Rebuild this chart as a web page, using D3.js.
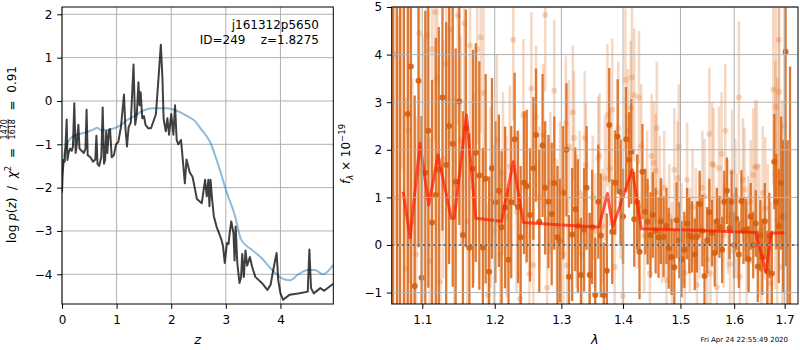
<!DOCTYPE html>
<html><head><meta charset="utf-8">
<script src="https://cdn.jsdelivr.net/npm/d3@7"></script>
<style>
body{margin:0;background:#fff}
svg{font-family:"DejaVu Sans",sans-serif}
text{white-space:pre}
</style></head><body>
<svg id="c" width="800" height="350"></svg>
<script>
// ---------- Left panel: p(z) ----------
const pzZ = [0.00,0.01,0.03,0.05,0.086,0.10,0.12,0.15,0.18,0.20,
0.225,0.25,0.27,0.30,0.32,0.36,0.40,0.43,0.45,0.47,
0.52,0.57,0.61,0.63,0.65,0.68,0.72,0.745,0.77,0.79,
0.81,0.83,0.86,0.88,0.91,0.95,0.99,1.03,1.08,1.135,
1.16,1.19,1.22,1.26,1.31,1.34,1.37,1.40,1.42,1.44,
1.47,1.50,1.53,1.58,1.63,1.68,1.72,1.76,1.81,1.84,
1.86,1.90,1.93,1.96,2.00,2.04,2.07,2.10,2.13,2.18,
2.25,2.28,2.34,2.39,2.43,2.47,2.56,2.62,2.65,2.68,
2.70,2.72,2.75,2.78,2.83,2.92,2.95,2.98,3.02,3.05,
3.07,3.10,3.14,3.16,3.18,3.21,3.25,3.28,3.30,3.33,
3.36,3.39,3.44,3.48,3.54,3.66,3.76,3.82,3.88,3.93,
3.96,4.00,4.05,4.17,4.35,4.50,4.53,4.56,4.61,4.73,
4.80,4.968];
const pzLog = [-2.12,-1.75,-1.36,-1.40,-0.43,-1.36,-1.20,-1.10,-1.15,-1.05,
-0.05,-1.20,-1.00,-0.55,-1.10,-1.15,-1.20,-1.10,-0.20,-1.25,
-1.30,-1.40,-1.35,-0.80,-1.45,-1.50,-1.30,-0.15,-1.45,-1.35,
-0.70,-1.20,-0.67,-0.65,-1.30,-1.25,-1.00,-0.95,-0.60,0.15,
-0.60,-1.05,-0.60,-0.50,0.84,-0.55,-0.30,0.43,-0.10,0.20,
-0.40,-0.35,-0.55,-0.63,-0.63,-0.45,-0.30,0.40,1.30,0.50,
-0.40,-0.70,-0.40,-0.78,-0.30,-0.78,-0.10,-0.90,-1.00,-0.90,
-1.90,-1.35,-1.65,-1.75,-2.00,-2.26,-2.36,-1.82,-2.20,-1.82,
-2.43,-1.82,-2.28,-2.66,-2.90,-3.20,-3.36,-3.74,-3.28,-3.30,
-3.05,-2.78,-3.05,-3.68,-2.90,-3.74,-4.20,-4.06,-3.53,-4.06,
-3.45,-3.80,-3.60,-3.82,-4.06,-4.20,-4.36,-4.24,-3.82,-3.51,
-4.14,-4.44,-4.59,-4.47,-4.44,-4.40,-3.43,-4.32,-4.44,-4.32,
-4.38,-4.22];
const priorZ = [0.00,0.03,0.09,0.15,0.27,0.45,0.57,0.65,0.72,0.93,
1.06,1.18,1.31,1.49,1.67,1.91,2.09,2.27,2.44,2.53,
2.72,2.87,3.02,3.17,3.28,3.47,3.65,3.84,4.02,4.17,
4.32,4.50,4.63,4.78,4.87,4.968];
const priorLog = [-1.60,-1.30,-1.00,-0.87,-0.78,-0.72,-0.66,-0.62,-0.68,-0.64,
-0.57,-0.45,-0.36,-0.22,-0.17,-0.17,-0.22,-0.33,-0.47,-0.62,
-0.97,-1.51,-2.12,-2.66,-3.20,-3.43,-3.62,-3.89,-4.09,-4.14,
-4.01,-3.90,-3.90,-4.00,-3.93,-3.78];
const zTicks = [0,1,2,3,4];
const logTicks = [2,1,0,-1,-2,-3,-4];
const objName = "j161312p5650";
const objInfo = "ID=249    z=1.8275";

// ---------- Right panel: spectrum ----------
const darkWave = [1.062,1.067,1.071,1.076,1.081,1.085,1.090,1.095,1.099,1.104,
1.108,1.113,1.118,1.122,1.127,1.132,1.136,1.141,1.145,1.150,
1.155,1.159,1.164,1.169,1.173,1.178,1.183,1.187,1.192,1.196,
1.201,1.206,1.210,1.215,1.220,1.224,1.229,1.234,1.238,1.243,
1.247,1.252,1.257,1.261,1.266,1.271,1.275,1.280,1.285,1.289,
1.294,1.298,1.303,1.308,1.312,1.317,1.322,1.326,1.331,1.336,
1.340,1.345,1.349,1.354,1.359,1.363,1.368,1.373,1.377,1.382,
1.387,1.391,1.396,1.400,1.405,1.410,1.414,1.419,1.424,1.428,
1.433,1.438,1.442,1.447,1.451,1.456,1.461,1.465,1.470,1.475,
1.479,1.484,1.489,1.493,1.498,1.502,1.507,1.512,1.516,1.521,
1.526,1.530,1.535,1.540,1.544,1.549,1.553,1.558,1.563,1.567,
1.572,1.577,1.581,1.586,1.591,1.595,1.600,1.604,1.609,1.614,
1.618,1.623,1.628,1.632,1.637,1.642,1.646,1.651,1.655,1.660,
1.665,1.669,1.674,1.679,1.683,1.688,1.693,1.697,1.702,1.706,
1.711];
const darkFlux = [6.5,-2.5,7.0,-2.0,2.75,3.75,-0.86,3.45,-0.69,1.52,
2.4,0.47,1.05,1.58,3.1,1.68,2.5,2.12,1.33,3.02,
0.21,2.45,-0.06,1.6,1.94,1.46,-0.06,1.39,-0.56,1.61,
0.9,1.14,0.37,0.79,-0.31,0.9,2.22,0.80,0.16,1.31,
1.24,0.63,1.61,2.31,0.49,2.09,1.2,0.91,0.65,1.30,
0.16,0.09,1.1,2.0,-0.67,0.22,0.75,0.4,-0.63,0.32,
1.2,-0.63,0.38,-1.05,0.91,0.2,-1.05,-0.54,2.52,0.28,
1.31,2.28,1.12,0.6,2.22,1.79,1.96,0.54,0.9,-0.14,
1.54,0.7,0.49,0.21,0.63,0.3,0.16,0.5,0.17,0.4,
-0.07,-0.25,-0.47,0.52,0.1,-0.3,-0.10,0.45,0.2,0.17,
-0.2,0.17,0.86,0.3,-0.65,0.1,0.69,0.25,-0.17,0.5,
0.38,-0.1,0.91,1.14,0.35,0.91,0.0,0.55,-0.2,0.92,
0.3,0.32,-0.3,0.6,0.0,0.45,-0.45,0.2,-0.25,0.5,
-0.55,0.2,-0.6,1.75,0.91,0.4,1.3,0.6,4.06,-2.0,
-3.0];
const darkErr = [9,8,9,7,4.5,5,4,3.5,3.4,3.4,
3.3,3.0,3.3,3.0,2.8,3.0,2.9,3.0,2.8,2.6,
2.6,2.5,2.4,2.5,2.3,2.4,2.1,2.2,2.0,1.9,
1.7,1.6,1.6,1.7,1.5,1.6,1.4,1.6,1.5,1.5,
1.6,1.4,1.5,1.4,1.5,1.5,1.4,1.4,1.5,1.4,
1.5,1.3,1.4,1.4,1.3,1.4,1.3,1.4,1.2,1.3,
1.3,1.3,1.2,1.2,1.2,1.3,1.1,1.2,1.2,1.1,
1.1,1.2,1.1,1.0,1.1,1.0,1.1,1.0,1.0,1.0,
1.0,0.9,0.9,0.9,0.9,0.9,0.85,0.9,0.85,0.8,
0.85,0.8,0.8,0.8,0.8,0.8,0.8,0.75,0.8,0.75,
0.75,0.75,0.7,0.75,0.7,0.7,0.7,0.7,0.7,0.7,
0.65,0.7,0.65,0.7,0.65,0.65,0.7,0.65,0.7,0.65,
0.7,0.65,0.7,0.7,0.7,0.7,0.75,0.75,0.8,0.8,
0.85,0.9,0.9,1.0,1.0,1.2,1.4,1.6,4.5,4.2,
6.75];
const lightWave = [1.064,1.068,1.073,1.078,1.082,1.087,1.092,1.096,1.101,1.106,
1.110,1.113,1.117,1.120,1.124,1.128,1.132,1.138,1.143,1.148,
1.152,1.157,1.161,1.165,1.170,1.175,1.180,1.184,1.190,1.194,
1.199,1.203,1.208,1.212,1.217,1.222,1.227,1.232,1.237,1.242,
1.246,1.251,1.254,1.257,1.261,1.266,1.272,1.275,1.278,1.283,
1.289,1.293,1.298,1.303,1.307,1.309,1.312,1.318,1.320,1.324,
1.329,1.333,1.337,1.339,1.345,1.350,1.354,1.359,1.361,1.366,
1.370,1.374,1.378,1.382,1.386,1.392,1.396,1.400,1.404,1.408,
1.413,1.415,1.419,1.425,1.427,1.431,1.436,1.441,1.446,1.449,
1.453,1.456,1.458,1.463,1.467,1.471,1.475,1.480,1.485,1.489,
1.495,1.497,1.502,1.508,1.512,1.517,1.522,1.528,1.530,1.535,
1.540,1.544,1.549,1.553,1.555,1.558,1.561,1.567,1.571,1.576,
1.580,1.583,1.588,1.592,1.596,1.599,1.602,1.606,1.609,1.611,
1.617,1.620,1.624,1.627,1.632,1.637,1.641,1.644,1.649,1.653,
1.656,1.661,1.666,1.672,1.677,1.681,1.682,1.685,1.688,1.689,
1.695,1.699];
const lightFlux = [4.0,1.0,5.6,-0.5,2.4,0.5,-0.2,4.45,1.6,4.41,
-0.34,4.11,4.89,3.5,-0.77,1.8,3.81,4.52,0.8,4.82,
2.2,4.66,0.5,4.19,1.2,4.11,4.36,3.2,-1.05,1.0,
0.3,2.2,-0.2,1.51,0.6,1.65,4.31,0.7,-1.13,2.73,
1.2,-0.61,3.29,-0.42,2.69,1.0,2.31,4.83,-0.9,1.3,
3.24,0.4,1.2,-0.2,2.56,-0.43,2.07,2.79,2.25,0.5,
1.1,-0.2,2.25,1.68,-0.61,1.0,0.3,1.82,1.89,0.4,
1.4,2.73,1.6,2.84,-0.46,2.45,0.9,-1.07,3.47,2.4,
2.89,3.52,3.15,0.7,3.10,2.08,0.2,1.2,-0.6,1.87,
1.73,1.56,2.45,1.1,0.3,1.2,-0.74,0.6,-0.3,1.58,
1.4,2.07,0.2,-0.59,1.37,0.1,0.8,0.53,-0.84,0.4,
1.2,1.03,-0.3,2.33,-0.6,1.70,1.68,-0.89,1.61,1.91,
0.2,2.4,0.6,-0.4,1.54,-0.12,1.03,0.4,3.1,-0.67,
1.37,1.17,-0.3,0.25,0.9,1.47,1.63,1.65,0.3,-0.5,
1.1,0.77,0.1,-0.8,3.26,1.47,2.9,0.52,4.31,3.22,
-0.46,2.5];
const lightErr = [4.0,3.8,4.0,3.6,3.2,3.0,2.9,3.0,2.8,2.8,
2.6,2.6,2.7,2.5,2.4,2.5,2.4,2.4,2.3,2.3,
2.2,2.2,2.1,2.1,2.0,2.0,2.0,1.9,1.9,1.9,
1.8,1.8,1.8,1.7,1.7,1.7,1.7,1.7,1.6,1.6,
1.6,1.6,1.6,1.6,1.5,1.5,1.5,1.6,1.5,1.5,
1.5,1.4,1.4,1.4,1.4,1.4,1.4,1.4,1.4,1.4,
1.3,1.3,1.4,1.3,1.3,1.3,1.2,1.3,1.3,1.2,
1.3,1.5,1.2,1.5,1.2,1.4,1.2,1.3,1.5,1.3,
1.4,1.5,1.4,1.2,1.4,1.3,1.2,1.2,1.2,1.3,
1.3,1.2,1.4,1.2,1.1,1.2,1.2,1.1,1.2,1.3,
1.2,1.3,1.1,1.2,1.2,1.1,1.2,1.1,1.2,1.1,
1.2,1.2,1.1,1.4,1.2,1.3,1.2,1.2,1.3,1.3,
1.1,1.4,1.2,1.1,1.3,1.2,1.2,1.1,1.6,1.2,
1.3,1.3,1.2,1.2,1.3,1.4,1.4,1.4,1.4,1.4,
1.4,1.5,1.6,1.7,2.0,2.4,2.6,3.0,3.5,3.0,
3.5,5];
const modelWave = [1.075,1.084,1.097,1.1085,1.121,1.139,1.143,1.160,1.173,1.210,
1.227,1.242,1.300,1.360,1.374,1.383,1.4155,1.431,1.525,1.642,
1.662,1.673,1.702];
const modelFlux = [1.12,0.15,2.14,0.84,1.89,0.56,0.56,2.73,0.56,0.50,
1.75,0.47,0.42,0.38,1.08,0.38,1.58,0.34,0.31,0.26,
-0.56,0.25,0.25];
const lamTicks = [1.1,1.2,1.3,1.4,1.5,1.6,1.7];
const fluxTicks = [-1,0,1,2,3,4,5];
const stamp = "Fri Apr 24 22:55:49 2020";

// ---------- drawing ----------
const svg = d3.select("#c");
const FS = 12;
const GRID = "#b0b0b0";
const ORANGE = "#db6818";

const xL = d3.scaleLinear().domain([0, 4.968]).range([62, 333.3]);
const yL = d3.scaleLinear().domain([-4.686, 2.169]).range([304, 7]);
const xR = d3.scaleLog().domain([1.0603, 1.7275]).range([391.7, 798]);
const yR = d3.scaleLinear().domain([-1.24, 5]).range([304, 7]);

const defs = svg.append("defs");
defs.append("clipPath").attr("id","clipL").append("rect")
  .attr("x",62).attr("y",7).attr("width",333.3-62).attr("height",304-7);
defs.append("clipPath").attr("id","clipR").append("rect")
  .attr("x",391.7).attr("y",7).attr("width",798-391.7).attr("height",304-7);

function styleAxis(g){
  g.select(".domain").remove();
  g.selectAll(".tick line").attr("stroke","#000").attr("stroke-width",1);
  g.selectAll(".tick text").attr("font-size",FS).attr("fill","#000")
    .attr("font-family","DejaVu Sans, sans-serif");
}

// ----- Left panel -----
const gL = svg.append("g");
// grid
gL.append("g").selectAll("line").data(zTicks).join("line")
  .attr("x1",d=>xL(d)).attr("x2",d=>xL(d)).attr("y1",7).attr("y2",304)
  .attr("stroke",GRID).attr("stroke-width",1);
gL.append("g").selectAll("line").data(logTicks).join("line")
  .attr("x1",62).attr("x2",333.3).attr("y1",d=>yL(d)).attr("y2",d=>yL(d))
  .attr("stroke",GRID).attr("stroke-width",1);

const plotL = gL.append("g").attr("clip-path","url(#clipL)");
const priorPts = priorZ.map((z,i)=>[z,priorLog[i]]);
plotL.append("path").datum(priorPts)
  .attr("d", d3.line().x(d=>xL(d[0])).y(d=>yL(d[1])).curve(d3.curveMonotoneX))
  .attr("fill","none").attr("stroke","#1f77b4").attr("stroke-opacity",0.5).attr("stroke-width",2);
const pzPts = pzZ.map((z,i)=>[z,pzLog[i]]);
plotL.append("path").datum(pzPts)
  .attr("d", d3.line().x(d=>xL(d[0])).y(d=>yL(d[1])))
  .attr("fill","none").attr("stroke","#000").attr("stroke-opacity",0.75)
  .attr("stroke-width",2).attr("stroke-linejoin","round");

const axLx = gL.append("g").attr("transform","translate(0,304)")
  .call(d3.axisBottom(xL).tickValues(zTicks).tickSize(4.9).tickPadding(6.5).tickFormat(d3.format("d")));
styleAxis(axLx);
const axLy = gL.append("g").attr("transform","translate(62,0)")
  .call(d3.axisLeft(yL).tickValues(logTicks).tickSize(4.9).tickPadding(4.6).tickFormat(d3.format("d")));
styleAxis(axLy);
gL.append("rect").attr("x",62).attr("y",7).attr("width",333.3-62).attr("height",297)
  .attr("fill","none").attr("stroke","#000").attr("stroke-width",1);

gL.append("text").attr("x",319).attr("y",28.5).attr("text-anchor","end")
  .attr("font-size",FS).text(objName);
gL.append("text").attr("x",319).attr("y",44).attr("text-anchor","end")
  .attr("font-size",FS).text(objInfo);

gL.append("text").attr("x",(62+333.3)/2).attr("y",344).attr("text-anchor","middle")
  .attr("font-size",FS+1).attr("font-style","italic").text("z");

// left y label with fraction
(function(){
  const g = svg.append("g");
  const t1 = g.append("text").attr("font-size",FS).attr("x",0).attr("y",0);
  t1.append("tspan").text("log ");
  t1.append("tspan").attr("font-style","italic").text("p");
  t1.append("tspan").text("(");
  t1.append("tspan").attr("font-style","italic").text("z");
  t1.append("tspan").text(")  /  ");
  t1.append("tspan").attr("font-style","italic").text("χ");
  t1.append("tspan").attr("font-size",8.5).attr("dy",-5).text("2");
  t1.append("tspan").attr("dy",5).text("  =  ");
  const w1 = t1.node().getComputedTextLength();
  const fx = w1 + 1;
  const nt = g.append("text").attr("font-size",8).attr("x",fx).attr("y",-8.8).text("1470");
  const dt = g.append("text").attr("font-size",8).attr("x",fx).attr("y",-0.3).text("1618");
  const fw = Math.max(nt.node().getComputedTextLength(), dt.node().getComputedTextLength());
  g.append("line").attr("x1",fx).attr("x2",fx+fw).attr("y1",-7.4).attr("y2",-7.4)
    .attr("stroke","#000").attr("stroke-width",0.7);
  const t2 = g.append("text").attr("font-size",FS).attr("x",fx+fw+1).attr("y",0).text("  =  0.91");
  const total = fx + fw + 1 + t2.node().getComputedTextLength();
  g.attr("transform",`translate(15.5,${154.5 + total/2}) rotate(-90)`);
})();

// ----- Right panel -----
const gR = svg.append("g");
const plotR = gR.append("g").attr("clip-path","url(#clipR)");

const light = lightWave.map((w,i)=>({w, f:lightFlux[i], e:lightErr[i]}));
const dark = darkWave.map((w,i)=>({w, f:darkFlux[i], e:darkErr[i]}));

const gLight = plotR.append("g").attr("opacity",1);
gLight.selectAll("line").data(light).join("line")
  .attr("x1",d=>xR(d.w)).attr("x2",d=>xR(d.w))
  .attr("y1",d=>yR(d.f-d.e)).attr("y2",d=>yR(d.f+d.e))
  .attr("stroke",ORANGE).attr("stroke-opacity",0.25).attr("stroke-width",2.6);
gLight.selectAll("circle").data(light).join("circle")
  .attr("cx",d=>xR(d.w)).attr("cy",d=>yR(d.f)).attr("r",3)
  .attr("fill",ORANGE).attr("fill-opacity",0.25);

const gDark = plotR.append("g");
gDark.selectAll("line").data(dark).join("line")
  .attr("x1",d=>xR(d.w)).attr("x2",d=>xR(d.w))
  .attr("y1",d=>yR(d.f-d.e)).attr("y2",d=>yR(d.f+d.e))
  .attr("stroke",ORANGE).attr("stroke-opacity",0.88).attr("stroke-width",2.3);
gDark.selectAll("circle").data(dark).join("circle")
  .attr("cx",d=>xR(d.w)).attr("cy",d=>yR(d.f)).attr("r",3)
  .attr("fill","#d45f10").attr("fill-opacity",0.9);

// grid on top
gR.append("g").selectAll("line").data(lamTicks).join("line")
  .attr("x1",d=>xR(d)).attr("x2",d=>xR(d)).attr("y1",7).attr("y2",304)
  .attr("stroke",GRID).attr("stroke-width",1);
gR.append("g").selectAll("line").data(fluxTicks).join("line")
  .attr("x1",391.7).attr("x2",798).attr("y1",d=>yR(d)).attr("y2",d=>yR(d))
  .attr("stroke",GRID).attr("stroke-width",1);

const modelPts = modelWave.map((w,i)=>[w,modelFlux[i]]);
plotR.append("path").datum(modelPts)
  .attr("d", d3.line().x(d=>xR(d[0])).y(d=>yR(d[1])))
  .attr("fill","none").attr("stroke","#ff1a00").attr("stroke-opacity",0.7)
  .attr("stroke-width",3).attr("stroke-linejoin","round");

plotR.append("line").attr("x1",391.7).attr("x2",798).attr("y1",yR(0)).attr("y2",yR(0))
  .attr("stroke","#000").attr("stroke-width",2).attr("stroke-dasharray","2,3.2").attr("stroke-opacity",0.85);

const axRx = gR.append("g").attr("transform","translate(0,304)")
  .call(d3.axisBottom(xR).tickValues(lamTicks).tickSize(4.9).tickPadding(6.5).tickFormat(d3.format(".1f")));
styleAxis(axRx);
const axRy = gR.append("g").attr("transform","translate(391.7,0)")
  .call(d3.axisLeft(yR).tickValues(fluxTicks).tickSize(4.9).tickPadding(4.6).tickFormat(d3.format("d")));
styleAxis(axRy);
gR.append("rect").attr("x",391.7).attr("y",7).attr("width",798-391.7).attr("height",297)
  .attr("fill","none").attr("stroke","#000").attr("stroke-width",1);

gR.append("text").attr("x",(391.7+798)/2).attr("y",344).attr("text-anchor","middle")
  .attr("font-size",FS+1).attr("font-style","italic").text("λ");

// right y label
(function(){
  const t = svg.append("text").attr("font-size",FS).attr("text-anchor","middle")
    .attr("transform","translate(349.5,154) rotate(-90)");
  t.append("tspan").attr("font-style","italic").text("f");
  t.append("tspan").attr("font-style","italic").attr("font-size",8.5).attr("dy",3).text("λ");
  t.append("tspan").attr("dy",-3).text(" × 10");
  t.append("tspan").attr("font-size",8.5).attr("dy",-5).text("−19");
})();

svg.append("text").attr("x",788).attr("y",342).attr("text-anchor","end")
  .attr("font-size",7).text(stamp);
</script>
</body></html>
